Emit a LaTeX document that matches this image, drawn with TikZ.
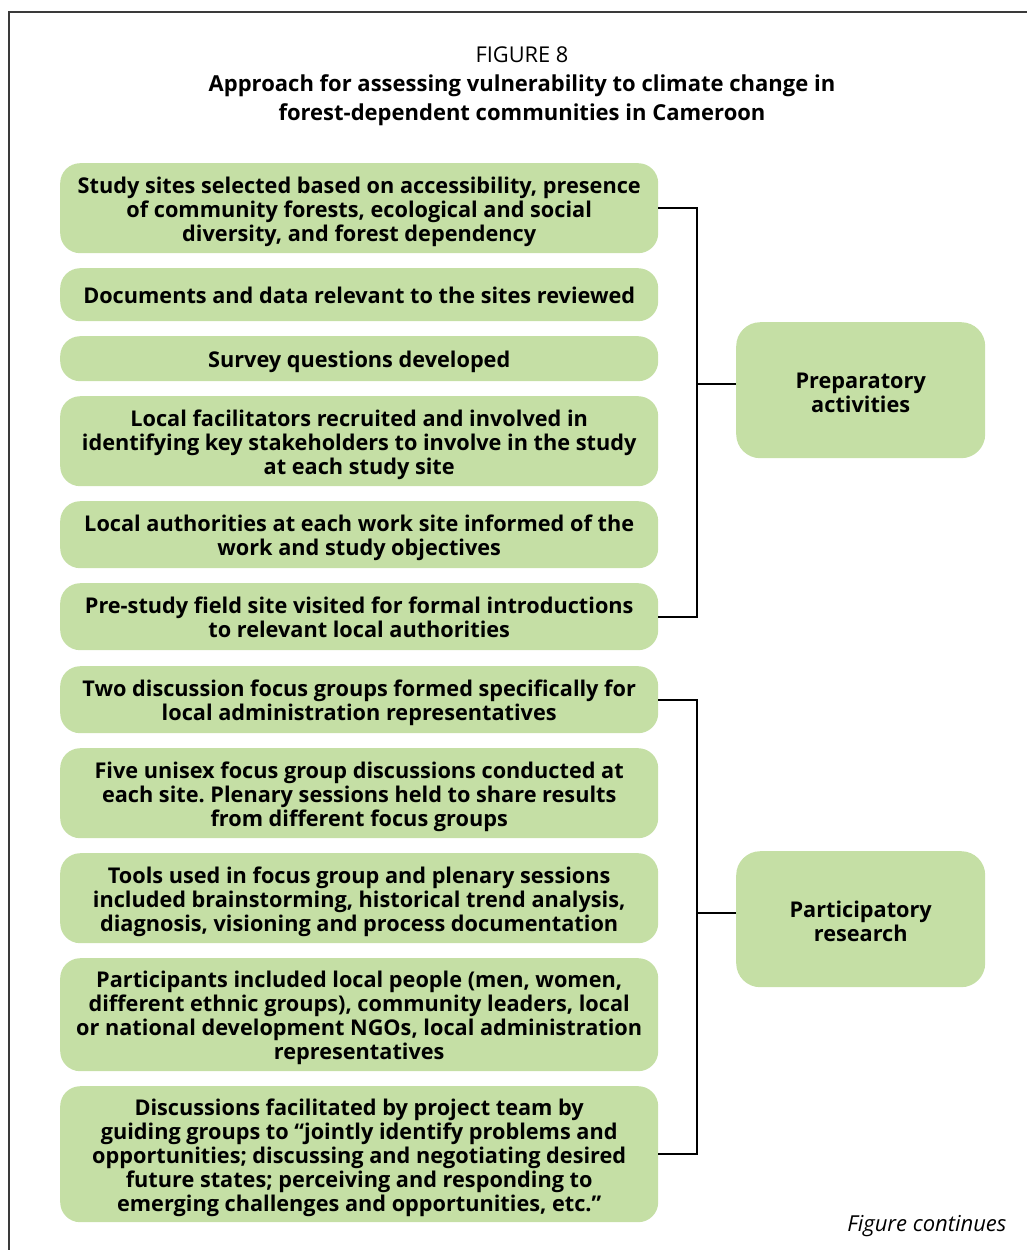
\documentclass[tikz,border=0pt]{standalone}
\usepackage{fontspec}
\setmainfont{Open Sans}
\frenchspacing
\definecolor{boxgreen}{HTML}{C5DFA5}
\definecolor{framegray}{HTML}{3A3A3A}
% rigid word spaces, plus struts that fix the height of the first line
% and the depth of the last one
\newcommand{\firststrut}[1]{\spaceskip=\fontdimen2\font\relax\rule[-5.7pt]{0pt}{#1}}
\newcommand{\laststrut}{\rule[-5.7pt]{0pt}{24pt}}
\begin{document}
\begin{tikzpicture}[x=1pt,y=-1pt,
  boxtext/.style={inner sep=0pt, align=center,
    font=\fontsize{21.7}{24}\selectfont\bfseries,
    execute at begin node=\firststrut{#1}, execute at end node=\laststrut},
  stepbox/.style={boxtext=29pt, fill=boxgreen, rounded corners=20pt, anchor=north west,
    text width=598pt},
  groupbox/.style={boxtext=32pt, fill=boxgreen, rounded corners=24pt, anchor=north west,
    text width=249pt, minimum height=136pt},
  link/.style={line width=2.4pt, black}]
\useasboundingbox (0,0) rectangle (1027,1250);
% open frame
\draw[framegray, line width=1.3pt] (9,1250) -- (9,12) -- (1027,12);
% heading
\node (fig) at (522,55) {\fontsize{21.8}{24}\selectfont FIGURE 8};
\node[align=center, font=\fontsize{22}{29}\selectfont\bfseries] (title) at (522,100)
  {Approach for assessing vulnerability to climate change in\\forest-dependent communities in Cameroon};
% preparatory steps
\node[stepbox, minimum height=90pt] (b1) at (60,163)
  {Study sites selected based on accessibility, presence\\of community forests, ecological and social\\diversity, and forest dependency};
\node[stepbox, minimum height=53pt] (b2) at (60,268)
  {Documents and data relevant to the sites reviewed};
\node[stepbox, minimum height=45pt] (b3) at (60,336)
  {Survey questions developed};
\node[stepbox, minimum height=90pt] (b4) at (60,396)
  {Local facilitators recruited and involved in\\identifying key stakeholders to involve in the study\\at each study site};
\node[stepbox, minimum height=67pt] (b5) at (60,501)
  {Local authorities at each work site informed of the\\work and study objectives};
\node[stepbox, minimum height=67pt] (b6) at (60,583)
  {Pre-study field site visited for formal introductions\\to relevant local authorities};
% participatory steps
\node[stepbox, minimum height=67pt] (b7) at (60,666)
  {Two discussion focus groups formed specifically for\\local administration representatives};
\node[stepbox, minimum height=90pt] (b8) at (60,748)
  {Five unisex focus group discussions conducted at\\each site. Plenary sessions held to share results\\from different focus groups};
\node[stepbox, minimum height=90pt] (b9) at (60,853)
  {Tools used in focus group and plenary sessions\\included brainstorming, historical trend analysis,\\diagnosis, visioning and process documentation};
\node[stepbox, minimum height=113pt] (b10) at (60,958)
  {Participants included local people (men, women,\\different ethnic groups), community leaders, local\\or national development NGOs, local administration\\representatives};
\node[stepbox, minimum height=136pt] (b11) at (60,1086)
  {Discussions facilitated by project team by\\guiding groups to “jointly identify problems and\\opportunities; discussing and negotiating desired\\future states; perceiving and responding to\\emerging challenges and opportunities, etc.”};
% group labels
\node[groupbox] (prep) at (736,322) {Preparatory\\activities};
\node[groupbox] (part) at (736,851) {Participatory\\research};
% brackets
\coordinate (bx) at (697,0);
\draw[link] (b1.east) -- (b1.east -| bx) -- (b6.east -| bx) -- (b6.east);
\draw[link] ([yshift=6pt]prep.west) -- ([yshift=6pt]prep.west -| bx);
\draw[link] (b7.east) -- (b7.east -| bx) -- (b11.east -| bx) -- (b11.east);
\draw[link] ([yshift=6pt]part.west) -- ([yshift=6pt]part.west -| bx);
% continuation note
\node[anchor=east, font=\fontsize{22}{24}\selectfont\itshape] (cont) at (1010,1226) {Figure continues};
\end{tikzpicture}
\end{document}
